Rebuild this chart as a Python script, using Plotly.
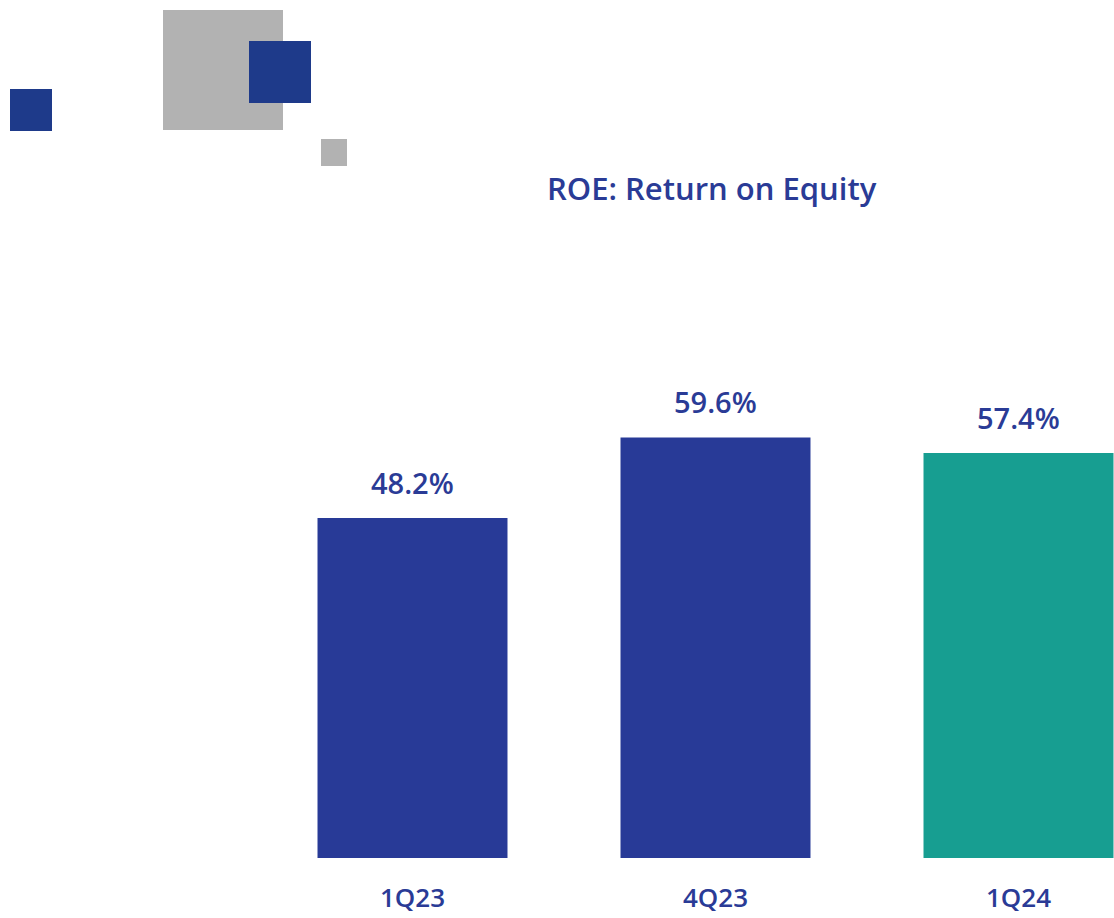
import plotly.graph_objects as go

categories = ["1Q23", "4Q23", "1Q24"]
roe_values = [48.2, 59.6, 57.4]
value_labels = ["48.2%", "59.6%", "57.4%"]
bar_colors = ["#283A97", "#283A97", "#179E91"]
title_text = "ROE: Return on Equity"

TEXT_BLUE = "#2A3B96"
FONT = "Open Sans"

W, H = 1114, 918
L, R, T, B = 261, 0, 100, 60
PW = W - L - R
PH = H - T - B


def px_x(x):
    return (x - L) / PW


def px_y(y):
    return (H - B - y) / PH


fig = go.Figure()
fig.add_trace(go.Bar(
    x=list(range(len(categories))),
    y=roe_values,
    marker=dict(color=bar_colors, line=dict(width=0)),
    width=0.627,
    hoverinfo="skip",
))

for i, (v, lab) in enumerate(zip(roe_values, value_labels)):
    fig.add_annotation(x=i, y=v, xref="x", yref="y", text=lab, showarrow=False,
                       yanchor="middle", yshift=36,
                       font=dict(family=FONT, size=29, color=TEXT_BLUE, weight=600))

# decorative squares
squares = [
    (163, 10, 283, 130, "#B2B2B2"),
    (249, 41, 311, 103, "#1E3A8A"),
    (10, 89, 52, 131, "#1E3A8A"),
    (321, 139, 347, 166, "#B2B2B2"),
]
for x0, y0, x1, y1, c in squares:
    fig.add_shape(type="rect", xref="paper", yref="paper",
                  x0=px_x(x0), x1=px_x(x1), y0=px_y(y1), y1=px_y(y0),
                  fillcolor=c, line=dict(width=0), layer="above")

fig.add_annotation(xref="paper", yref="paper", x=px_x(712), y=px_y(188),
                   text=title_text, showarrow=False, xanchor="center", yanchor="middle",
                   font=dict(family=FONT, size=31, color=TEXT_BLUE, weight=600))

fig.update_layout(
    width=W, height=H,
    margin=dict(l=L, r=R, t=T, b=B, pad=0),
    paper_bgcolor="white", plot_bgcolor="white",
    showlegend=False,
    xaxis=dict(range=[-0.5, -0.5 + PW / 303.0], tickvals=list(range(len(categories))),
               ticktext=categories, showgrid=False, zeroline=False, showline=False,
               ticks="", ticklabelstandoff=22,
               tickfont=dict(family=FONT, size=26, color=TEXT_BLUE, weight=600),
               fixedrange=True),
    yaxis=dict(range=[0, PH / 7.054], visible=False, showgrid=False, zeroline=False,
               fixedrange=True),
)

fig.write_html("out.html", config={"displayModeBar": False},
               post_script="document.body.style.margin='0';document.body.style.overflow='hidden';")
